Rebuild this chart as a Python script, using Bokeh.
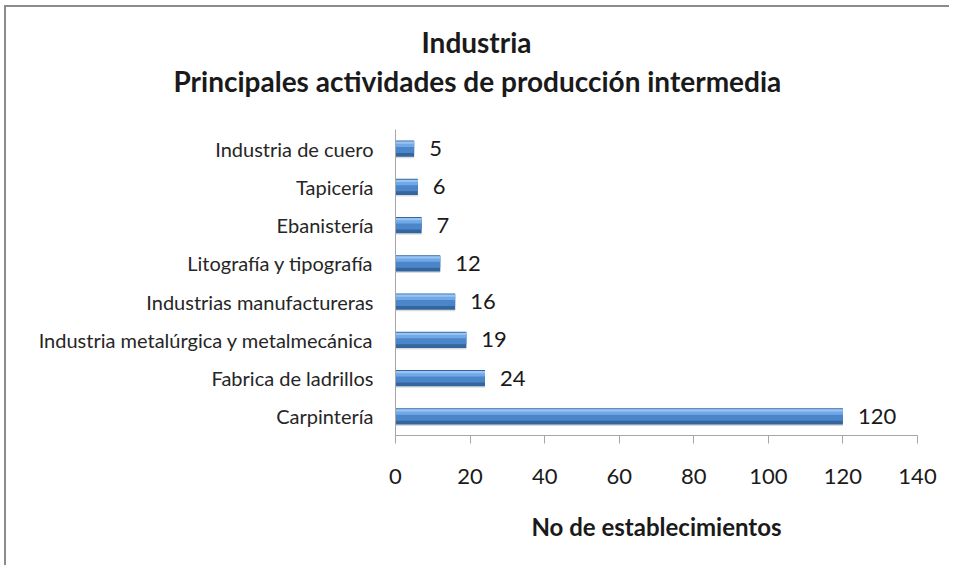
from bokeh.plotting import figure
from bokeh.models import FactorRange, FixedTicker, Title
from bokeh.transform import dodge
from bokeh.core.properties import value
from bokeh.embed import file_html
from bokeh.resources import INLINE

# ---- data (top = first in reading order) ----
categories = ["Industria de cuero", "Tapicería", "Ebanistería", "Litografía y tipografía",
              "Industrias manufactureras", "Industria metalúrgica y metalmecánica",
              "Fabrica de ladrillos", "Carpintería"]
counts = [5, 6, 7, 12, 16, 19, 24, 120]
x_ticks = [0, 20, 40, 60, 80, 100, 120, 140]
title_line1 = "Industria"
title_line2 = "Principales actividades de producción intermedia"
x_label = "No de establecimientos"

FONT = "Lato"
factors = list(reversed(categories))

p = figure(width=945, height=560, y_range=FactorRange(factors=factors),
           x_range=(0, 140), output_backend="svg", toolbar_location=None,
           min_border_left=389, min_border_right=34, min_border_top=122,
           min_border_bottom=132)
p.styles = {"margin-left": "4px", "margin-top": "5px",
            "border-top": "2px solid #8c8c8c", "border-left": "2px solid #8c8c8c"}
p.outline_line_color = None
p.background_fill_color = "white"
p.border_fill_color = "white"
p.grid.visible = False

src = dict(cat=categories, val=counts, lab=[str(v) for v in counts])

# shadow
p.hbar(y=dodge("cat", -0.05, range=p.y_range), right="val", left=0, height=0.40,
       source=src, fill_color="#9a9a9a", fill_alpha=0.35, line_color=None)
# main body (dark)
p.hbar(y="cat", right="val", left=0, height=0.42, source=src,
       fill_color="#33659f", line_color=None)
# mid tone
p.hbar(y=dodge("cat", 0.035, range=p.y_range), right="val", left=0, height=0.30,
       source=src, fill_color="#4d86c8", line_color=None)
# light upper
p.hbar(y=dodge("cat", 0.11, range=p.y_range), right="val", left=0, height=0.14,
       source=src, fill_color="#71a9e8", line_color=None)
# top highlight
p.hbar(y=dodge("cat", 0.155, range=p.y_range), right="val", left=0, height=0.06,
       source=src, fill_color="#98c4f3", line_color=None)

p.text(x="val", y="cat", text="lab", source=src, x_offset=15,
       text_baseline="middle", text_align="left", text_font=value(FONT),
       text_font_size="22px", text_color="#1a1a1a")

# axes
xa = p.xaxis[0]
xa.ticker = FixedTicker(ticks=x_ticks)
xa.axis_line_color = "#a6a6a6"
xa.major_tick_line_color = "#a6a6a6"
xa.major_tick_out = 8
xa.major_tick_in = 0
xa.minor_tick_line_color = None
xa.major_label_text_font = FONT
xa.major_label_text_font_size = "22px"
xa.major_label_text_color = "#1a1a1a"
xa.major_label_standoff = 25
xa.axis_label = x_label
xa.axis_label_text_font = FONT
xa.axis_label_text_font_style = "bold"
xa.axis_label_text_font_size = "24px"
xa.axis_label_text_color = "#1a1a1a"
xa.axis_label_standoff = 25

ya = p.yaxis[0]
ya.axis_line_color = "#a6a6a6"
ya.major_tick_line_color = None
ya.major_tick_out = 0
ya.major_tick_in = 0
ya.minor_tick_line_color = None
ya.major_label_text_font = FONT
ya.major_label_text_font_size = "20px"
ya.major_label_text_color = "#262626"
ya.major_label_standoff = 22

# title: two lines; plot title is outermost, extra titles stack outward from the frame
p.title.text = title_line1
p.title.align = "left"
p.title.offset = 26
p.title.text_font = FONT
p.title.text_font_style = "bold"
p.title.text_font_size = "28px"
p.title.text_color = "#1a1a1a"
p.title.standoff = 4

spacer = Title(text=" ", text_font_size="1px", standoff=28)
p.add_layout(spacer, "above")
t2 = Title(text=title_line2, align="left", offset=-222, text_font=FONT,
           text_font_style="bold", text_font_size="28px", text_color="#1a1a1a",
           standoff=2)
p.add_layout(t2, "above")

open("out.html", "w").write(file_html(p, INLINE))
